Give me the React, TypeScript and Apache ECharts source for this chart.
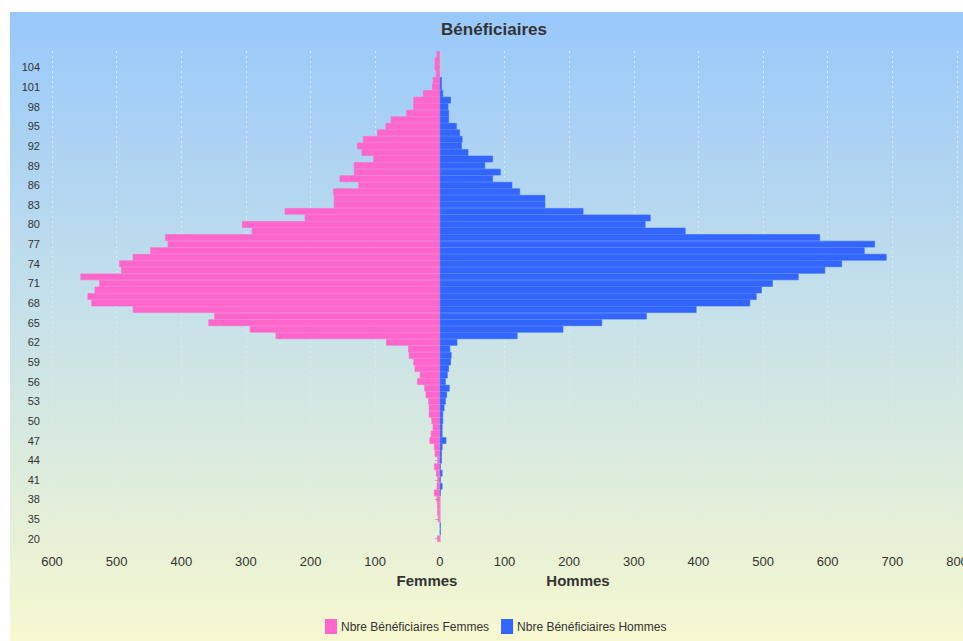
import React, { useEffect, useRef } from "react";
import * as echarts from "echarts";

const ages: string[] = [
  "20", "31", "34", "35", "36", "37", "38", "39", "40", "41", "42", "43", "44", "45", "46", "47", "48", "49",
  "50", "51", "52", "53", "54", "55", "56", "57", "58", "59", "60", "61", "62", "63", "64", "65", "66", "67",
  "68", "69", "70", "71", "72", "73", "74", "75", "76", "77", "78", "79", "80", "81", "82", "83", "84", "85",
  "86", "87", "88", "89", "90", "91", "92", "93", "94", "95", "96", "97", "98", "99", "100", "101", "102",
  "103", "104", "105", "106",
];

const femmes: number[] = [
  4, 0, 0, 3, 4, 4, 5, 9, 5, 4, 6, 9, 4, 8, 9, 16, 14, 11,
  13, 17, 17, 18, 22, 24, 35, 31, 39, 41, 48, 49, 83, 254, 294, 358, 349, 475,
  539, 545, 534, 527, 556, 493, 496, 475, 448, 421, 425, 291, 306, 209, 240, 164, 164, 165,
  126, 155, 133, 133, 103, 121, 128, 119, 97, 84, 76, 52, 41, 41, 26, 12, 11,
  6, 8, 8, 5,
];

const hommes: number[] = [
  0, 1, 1, 0, 0, 0, 0, 1, 4, 1, 4, 1, 3, 3, 4, 10, 4, 4,
  5, 5, 7, 9, 11, 15, 9, 12, 14, 17, 18, 16, 27, 120, 191, 251, 320, 397,
  480, 490, 498, 515, 555, 596, 622, 691, 657, 673, 588, 380, 318, 326, 222, 163, 163, 124,
  112, 82, 94, 70, 82, 44, 34, 35, 31, 26, 14, 14, 13, 17, 5, 3, 3,
  0, 0, 0, 0,
];

const seriesNames = ["Nbre Bénéficiaires Femmes", "Nbre Bénéficiaires Hommes"];
const titleText = "Bénéficiaires";
const sideNames = ["Femmes", "Hommes"];

const FONT = "'Liberation Sans', Arial, Helvetica, sans-serif";

export default function App() {
  const ref = useRef<HTMLDivElement>(null);

  useEffect(() => {
    if (!ref.current) return;
    const chart = echarts.init(ref.current, undefined, { renderer: "svg" });
    chart.setOption({
      animation: false,
      backgroundColor: "transparent",
      textStyle: { fontFamily: FONT },
      grid: { left: 52, right: 6, top: 51, bottom: 99, containLabel: false, outerBoundsMode: "none" },
      graphic: [
        {
          type: "text",
          x: 494,
          y: 29,
          style: {
            text: titleText,
            fill: "#333333",
            font: `bold 17px ${FONT}`,
            textAlign: "center",
            textVerticalAlign: "middle",
          },
        },
        {
          type: "text",
          x: 427,
          y: 580,
          style: {
            text: sideNames[0],
            fill: "#333333",
            font: `bold 15px ${FONT}`,
            textAlign: "center",
            textVerticalAlign: "middle",
          },
        },
        {
          type: "text",
          x: 578,
          y: 580,
          style: {
            text: sideNames[1],
            fill: "#333333",
            font: `bold 15px ${FONT}`,
            textAlign: "center",
            textVerticalAlign: "middle",
          },
        },
      ],
      legend: {
        data: seriesNames,
        left: 320,
        top: 614,
        icon: "rect",
        itemWidth: 10,
        itemHeight: 13,
        itemGap: 12,
        textStyle: { fontSize: 12, color: "#333333", fontFamily: FONT },
      },
      xAxis: {
        type: "value",
        min: -600,
        max: 800,
        interval: 100,
        axisLine: { show: false },
        axisTick: { show: false },
        axisLabel: {
          formatter: (v: number) => String(Math.abs(v)),
          fontSize: 13,
          color: "#333333",
          margin: 13,
        },
        splitLine: {
          show: true,
          lineStyle: { color: "#e4e8ee", type: [2, 3], width: 1 },
        },
      },
      yAxis: {
        type: "category",
        data: ages,
        boundaryGap: true,
        axisLine: { show: true, lineStyle: { color: "#c8c8c8" } },
        axisTick: {
          show: true,
          interval: 2,
          alignWithLabel: true,
          length: 5,
          lineStyle: { color: "#b0b0b0" },
        },
        axisLabel: { interval: 2, fontSize: 11, color: "#333333", margin: 12 },
        splitLine: { show: false },
      },
      series: [
        {
          name: seriesNames[0],
          type: "bar",
          stack: "total",
          barCategoryGap: "0%",
          itemStyle: { color: "#ff66cc", borderColor: "#ff66cc", borderWidth: 0.6 },
          data: femmes.map((v) => (v === 0 ? "-" : -v)),
        },
        {
          name: seriesNames[1],
          type: "bar",
          stack: "total",
          barCategoryGap: "0%",
          itemStyle: { color: "#3366ff", borderColor: "#3366ff", borderWidth: 0.6 },
          data: hommes.map((v) => (v === 0 ? "-" : v)),
        },
      ],
    });
    return () => chart.dispose();
  }, []);

  return (
    <div style={{ position: "fixed", left: 0, top: 0, width: 963, height: 641, background: "#ffffff" }}>
      <div
        style={{
          position: "absolute",
          left: 10,
          top: 12,
          width: 953,
          height: 629,
          background: "linear-gradient(to bottom, #98c8fb 0%, #c8e2e8 50%, #f6f8cf 100%)",
        }}
      />
      <div ref={ref} style={{ position: "absolute", left: 0, top: 0, width: 963, height: 641 }} />
    </div>
  );
}
